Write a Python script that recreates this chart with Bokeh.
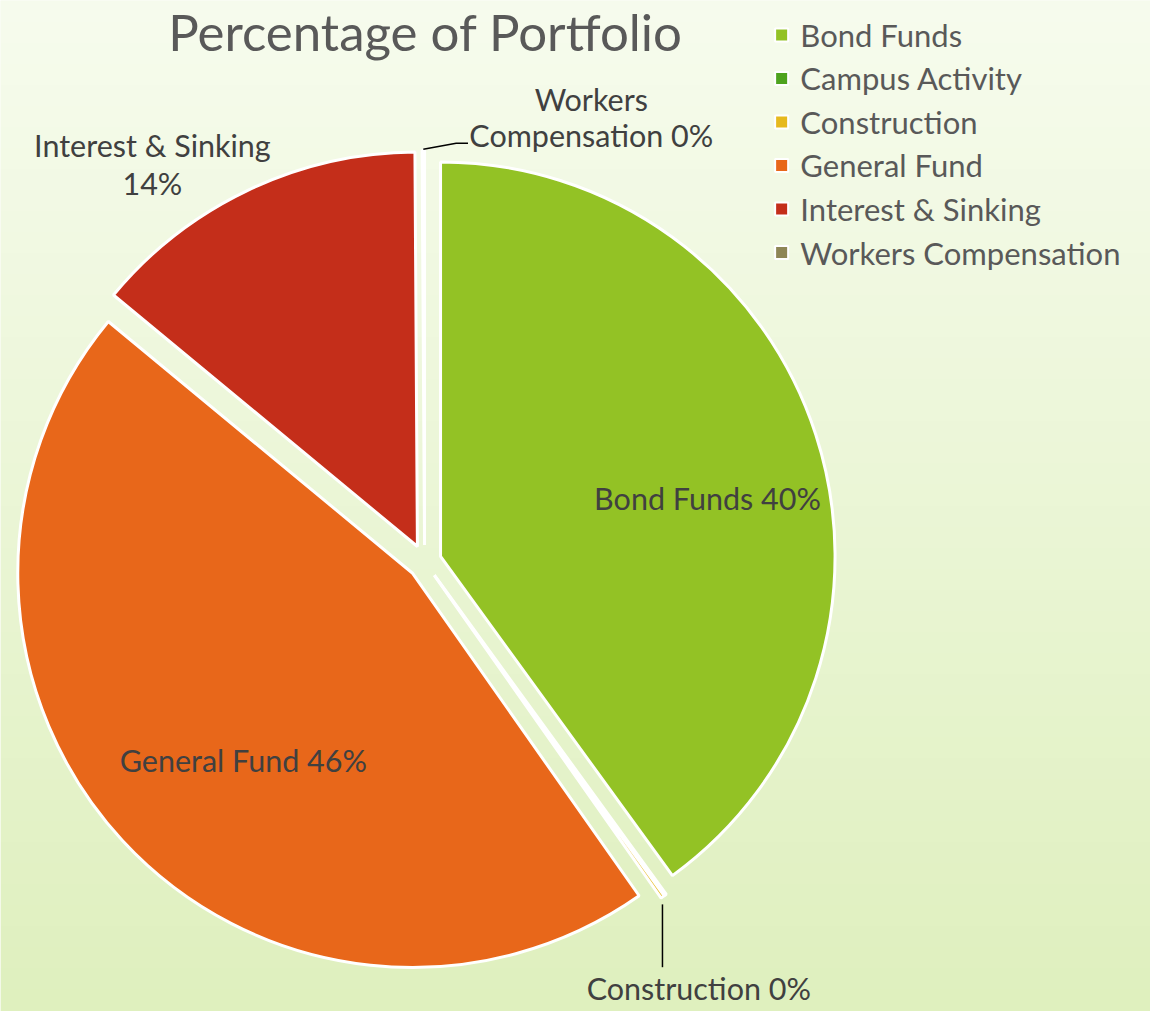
import numpy as np
from bokeh.plotting import figure
from bokeh.models import Range1d
from bokeh.embed import file_html
from bokeh.resources import INLINE
from bokeh.core.properties import value

# ---------------- data ----------------
categories = ["Bond Funds", "Campus Activity", "Construction", "General Fund",
              "Interest & Sinking", "Workers Compensation"]
shares = [40.0, 0.1, 0.15, 45.75, 13.9, 0.1]
colors = ["#93C225", "#4EA31F", "#E6B91E", "#E8671A", "#C42E1A", "#8E8656"]
title_text = "Percentage of Portfolio"

# ---------------- layout ----------------
W, H = 1150, 1011
REF_W, REF_H = 1166, 1027
FONT = "Lato"


def Y(yref):
    return REF_H - yref


p = figure(width=W, height=H, x_range=Range1d(0, REF_W), y_range=Range1d(0, REF_H),
           output_backend="svg", toolbar_location=None, min_border=0,
           x_axis_type=None, y_axis_type=None)
p.grid.visible = False
p.outline_line_color = None
p.background_fill_color = "#F7FCEE"
p.border_fill_color = "#F7FCEE"

# background vertical gradient
top = np.array([247, 252, 238], dtype=float)
bot = np.array([223, 240, 190], dtype=float)
n = H
t = np.linspace(0, 1, n)
cols = bot[None, :] * (1 - t[:, None]) + top[None, :] * t[:, None]
img = np.empty((n, 1), dtype=np.uint32)
view = img.view(dtype=np.uint8).reshape((n, 1, 4))
view[:, 0, 0] = cols[:, 0]
view[:, 0, 1] = cols[:, 1]
view[:, 0, 2] = cols[:, 2]
view[:, 0, 3] = 255
p.image_rgba(image=[img], x=0, y=0, dw=REF_W, dh=REF_H)

# ---------------- pie ----------------
cx, cy = 430, Y(570)
R = 400
explode = 17
fr = np.array(shares) / sum(shares)
cum = np.concatenate([[0.0], np.cumsum(fr)])
start_deg = cum[:-1] * 360.0   # clockwise from 12 o'clock
end_deg = cum[1:] * 360.0
mid = np.deg2rad((start_deg + end_deg) / 2)
ax = cx + explode * np.sin(mid)
ay = cy + explode * np.cos(mid)
p.wedge(x=ax, y=ay, radius=R,
        start_angle=np.pi / 2 - np.deg2rad(start_deg),
        end_angle=np.pi / 2 - np.deg2rad(end_deg),
        direction="clock", fill_color=colors, line_color="white", line_width=3)

pct = [f"{round(f * 100)}%" for f in fr]
label_color = "#404040"
lab_size = "30.5px"

# inside labels (polar offsets from each slice's apex: clockwise deg from top, radius px)
inside = {0: (77.7, 277), 3: (222.0, 256)}
for i, (a_deg, r) in inside.items():
    a = np.deg2rad(a_deg)
    p.text(x=[ax[i] + r * np.sin(a)], y=[ay[i] + r * np.cos(a)],
           text=[f"{categories[i]} {pct[i]}"], text_font=value(FONT),
           text_font_size=lab_size, text_color=label_color,
           text_align="center", text_baseline="middle")


def two_line(x, y1, y2, l1, l2):
    p.text(x=[x, x], y=[Y(y1), Y(y2)], text=[l1, l2], text_font=value(FONT),
           text_font_size=lab_size, text_color=label_color,
           text_align="center", text_baseline="middle")


# outside labels
two_line(154, 147, 185, "Interest & Sinking", pct[4])
two_line(599, 100, 137, "Workers", f"Compensation {pct[5]}")
p.text(x=[708], y=[Y(1003)], text=[f"Construction {pct[2]}"], text_font=value(FONT),
       text_font_size=lab_size, text_color=label_color,
       text_align="center", text_baseline="middle")

# leader lines
ow_x = ax[5] + (R + 2) * np.sin(mid[5])
ow_y = ay[5] + (R + 2) * np.cos(mid[5])
p.line(x=[ow_x, 462, 474], y=[ow_y, Y(145), Y(145)], line_color="black", line_width=1.5)
oc_x = ax[2] + (R + 10) * np.sin(mid[2]) - 6
oc_y = ay[2] + (R + 10) * np.cos(mid[2])
p.line(x=[oc_x, oc_x], y=[oc_y, Y(982)], line_color="black", line_width=1.5)

# ---------------- title ----------------
p.text(x=[431], y=[Y(31)], text=[title_text], text_font=value(FONT),
       text_font_size="51px", text_color="#595959",
       text_align="center", text_baseline="middle")

# ---------------- legend ----------------
leg_y = [Y(35 + 44.2 * i) for i in range(len(categories))]
p.scatter(x=[792] * len(categories), y=leg_y, marker="square", size=13,
          fill_color=colors, line_color="white", line_width=2)
p.text(x=[811] * len(categories), y=leg_y, text=categories, text_font=value(FONT),
       text_font_size="31px", text_color="#595959",
       text_align="left", text_baseline="middle")

open("out.html", "w").write(file_html(p, INLINE))
